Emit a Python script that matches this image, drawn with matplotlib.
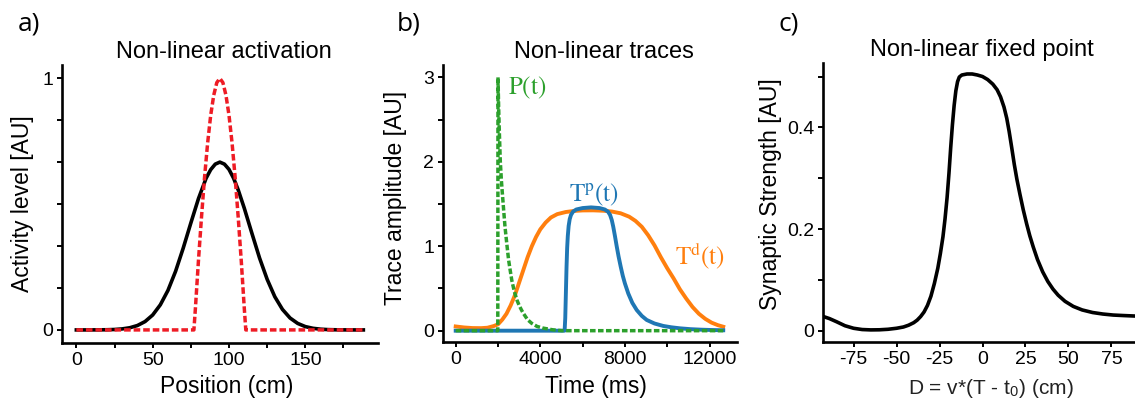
import numpy as np
import matplotlib
matplotlib.use("Agg")
import matplotlib.pyplot as plt

plt.rcParams['font.family'] = ['Liberation Sans', 'DejaVu Sans']
plt.rcParams['mathtext.fontset'] = 'stix'

# ---------------- data: panel a ----------------
pos_black = [0, 5, 10, 15, 20, 25, 30, 35, 40, 45, 50, 55, 60, 65, 70, 75, 80,
             85, 88, 91, 94, 97, 100, 103, 106, 110, 115, 120, 125, 130, 135,
             140, 145, 150, 155, 160, 165, 170, 175, 180, 188]
act_black = [0.0, 0.0, 0.0001, 0.0003, 0.0007, 0.0017, 0.004, 0.0086, 0.0175,
             0.0332, 0.0593, 0.0997, 0.157, 0.233, 0.325, 0.425, 0.522, 0.603,
             0.637, 0.659, 0.667, 0.659, 0.638, 0.603, 0.557, 0.484, 0.384,
             0.286, 0.201, 0.132, 0.0816, 0.0473, 0.0258, 0.0132, 0.0064,
             0.0029, 0.0012, 0.0005, 0.0002, 0.0, 0.0]
pos_red = [0, 77, 78, 80, 82, 84, 86, 88, 90, 92, 94, 96, 98, 100, 102, 104,
           106, 108, 110, 111, 188]
act_red = [0.0, 0.0, 0.087, 0.277, 0.45, 0.608, 0.743, 0.853, 0.933, 0.983,
           1.0, 0.983, 0.933, 0.853, 0.743, 0.608, 0.45, 0.277, 0.087, 0.0, 0.0]
a_xticks = [0, 50, 100, 150]
a_xminor = [25, 75, 125, 175]

# ---------------- data: panel b ----------------
t_P = [0, 1990, 2000, 2030, 2060, 2110, 2160, 2205, 2270, 2331, 2420, 2500,
       2580, 2650, 2730, 2800, 2900, 3000, 3100, 3197, 3400, 3590, 3850, 4140,
       4600, 5000, 12650]
P = [0.0, 0.0, 3.0, 2.65, 2.38, 2.0, 1.78, 1.63, 1.42, 1.23, 1.02, 0.84, 0.71,
     0.6, 0.51, 0.44, 0.36, 0.3, 0.25, 0.206, 0.13, 0.088, 0.05, 0.03, 0.01,
     0.0, 0.0]
t_Tp = [0, 5150, 5180, 5210, 5240, 5270, 5300, 5340, 5390, 5450, 5550, 5700,
        6000, 6400, 6800, 7050, 7200, 7300, 7380, 7450, 7530, 7612, 7700, 7800,
        7900, 8000, 8160, 8350, 8558, 8800, 9031, 9400, 9816, 10200, 10605,
        11100, 11600, 12100, 12650]
Tp = [0.0, 0.0, 0.15, 0.45, 0.75, 0.98, 1.12, 1.24, 1.32, 1.37, 1.41, 1.435,
      1.452, 1.46, 1.452, 1.435, 1.41, 1.37, 1.31, 1.23, 1.12, 1.0, 0.88, 0.76,
      0.65, 0.56, 0.44, 0.33, 0.245, 0.175, 0.127, 0.085, 0.056, 0.04, 0.028,
      0.018, 0.012, 0.008, 0.005]
t_Td = [0, 400, 800, 1200, 1500, 1800, 2000, 2200, 2400, 2600, 2800, 3000,
        3200, 3400, 3600, 3800, 4000, 4250, 4500, 4800, 5200, 5600, 6000, 6500,
        7000, 7400, 7800, 8200, 8500, 8800, 9100, 9400, 9700, 10000, 10300,
        10600, 10900, 11200, 11500, 11800, 12100, 12400, 12650]
Td = [0.05, 0.038, 0.031, 0.03, 0.035, 0.055, 0.075, 0.13, 0.2, 0.3, 0.42,
      0.57, 0.72, 0.87, 1.0, 1.11, 1.2, 1.28, 1.34, 1.38, 1.405, 1.418, 1.424,
      1.425, 1.42, 1.41, 1.39, 1.35, 1.3, 1.23, 1.13, 1.01, 0.87, 0.74, 0.62,
      0.49, 0.38, 0.28, 0.2, 0.14, 0.095, 0.065, 0.047]
b_xticks = [0, 4000, 8000, 12000]
b_xminor = [2000, 6000, 10000]
b_yticks = [0, 1, 2, 3]
b_yminor = [0.5, 1.5, 2.5]

# ---------------- data: panel c ----------------
D = [-92.5, -89, -85, -80, -75, -70, -65, -60, -55, -50, -46, -43, -40, -38,
     -36, -34, -32, -30, -28, -26, -24.5, -23, -21.8, -20.6, -19.5, -18.5,
     -17.5, -16.5, -15.5, -14.5, -13.5, -12, -9, -6, -3, 0, 3, 6, 8.5, 10.5,
     12.5, 14.1, 15.5, 17, 18.5, 20, 21.8, 23.7, 25.7, 27.5, 29.5, 32, 35, 38,
     41, 44, 48, 52.8, 58, 64, 70, 76, 82, 89]
W = [0.028, 0.024, 0.018, 0.01, 0.005, 0.0025, 0.0018, 0.002, 0.003, 0.005,
     0.0075, 0.011, 0.016, 0.021, 0.028, 0.037, 0.05, 0.068, 0.093, 0.123,
     0.152, 0.185, 0.22, 0.262, 0.31, 0.36, 0.405, 0.443, 0.472, 0.49, 0.499,
     0.503, 0.505, 0.505, 0.503, 0.5, 0.494, 0.485, 0.474, 0.46, 0.44, 0.418,
     0.392, 0.36, 0.327, 0.298, 0.268, 0.238, 0.21, 0.187, 0.165, 0.14, 0.116,
     0.097, 0.082, 0.07, 0.058, 0.048, 0.041, 0.036, 0.033, 0.031, 0.030,
     0.029]
c_xticks = [-75, -50, -25, 0, 25, 50, 75]
c_yticks = [0, 0.2, 0.4]
c_yminor = [0.1, 0.3, 0.5]

# ---------------- figure ----------------
W_PX, H_PX = 1135, 407
fig = plt.figure(figsize=(W_PX / 100, H_PX / 100), dpi=100)


def axes_px(l, r, t, b):
    return fig.add_axes([l / W_PX, 1 - b / H_PX, (r - l) / W_PX, (b - t) / H_PX])


def style(ax):
    for s in ['top', 'right']:
        ax.spines[s].set_visible(False)
    for s in ['left', 'bottom']:
        ax.spines[s].set_linewidth(1.9)
    ax.tick_params(which='both', direction='out', length=3.5, width=1.4,
                   labelsize=14, pad=3)


LABFS = 16.5
TITFS = 17
PANFS = 19
LW = 2.6

# ---- panel a ----
axa = axes_px(62, 378, 65, 343)
style(axa)
axa.plot(pos_black, act_black, color='black', lw=LW)
axa.plot(pos_red, act_red, color='#EE1C25', lw=2.5, dashes=(1.9, 0.85))
axa.set_xlim(-9.4, 197.6)
axa.set_ylim(-0.052, 1.053)
axa.set_xticks(a_xticks)
axa.set_xticks(a_xminor, minor=True)
axa.set_yticks([0, 1])
axa.set_yticklabels(['0', '1'])
axa.set_yticks([1 / 6, 2 / 6, 3 / 6, 4 / 6, 5 / 6], minor=True)
axa.set_xlabel('Position (cm)', fontsize=LABFS)
axa.set_ylabel('Activity level [AU]', fontsize=LABFS)
axa.xaxis.set_label_coords(0.52, -0.115)
axa.yaxis.set_label_coords(-0.088, 0.5)
axa.set_title('Non-linear activation', fontsize=TITFS, x=0.511, pad=5)
fig.text(18 / W_PX, 1 - 24 / H_PX, 'a)', fontsize=PANFS, family='Open Sans',
         va='center', ha='left')

# ---- panel b ----
axb = axes_px(443.3, 736.7, 65, 342)
style(axb)
axb.plot(t_Td, Td, color='#FF7F0E', lw=2.8)
axb.plot(t_Tp, Tp, color='#1F77B4', lw=2.8)
axb.plot(t_P, P, color='#2CA02C', lw=2.5, dashes=(1.6, 0.7))
axb.set_xlim(-586, 13286)
axb.set_ylim(-0.134, 3.146)
axb.set_xticks(b_xticks)
axb.set_xticks(b_xminor, minor=True)
axb.set_yticks(b_yticks)
axb.set_yticks(b_yminor, minor=True)
axb.set_xlabel('Time (ms)', fontsize=LABFS)
axb.set_ylabel('Trace amplitude [AU]', fontsize=LABFS)
axb.xaxis.set_label_coords(0.52, -0.12)
axb.yaxis.set_label_coords(-0.124, 0.52)
axb.set_title('Non-linear traces', fontsize=TITFS, x=0.548, pad=5)
axb.text(2473, 2.87, r'$\mathrm{P(t)}$', color='#2CA02C', fontsize=18,
         ha='left', va='center')
axb.text(6540, 1.61, r'$\mathrm{T^{p}(t)}$', color='#1F77B4', fontsize=18,
         ha='center', va='center')
axb.text(10369, 0.876, r'$\mathrm{T^{d}(t)}$', color='#FF7F0E', fontsize=18,
         ha='left', va='center')
fig.text(397 / W_PX, 1 - 24 / H_PX, 'b)', fontsize=PANFS, family='Open Sans',
         va='center', ha='left')

# ---- panel c ----
axc = axes_px(823.3, 1135, 63.3, 342)
style(axc)
axc.plot(D, W, color='black', lw=LW)
axc.set_xlim(-92.6, 88.7)
axc.set_ylim(-0.022, 0.526)
axc.set_xticks(c_xticks)
axc.set_xticklabels([str(v) for v in c_xticks])
axc.set_yticks(c_yticks)
axc.set_yticklabels(['0', '0.2', '0.4'])
axc.set_yticks(c_yminor, minor=True)
axc.set_xlabel(r'D = v*(T - t$_{\mathregular{0}}$) (cm)', fontsize=15,
               color='#222222')
axc.set_ylabel('Synaptic Strength [AU]', fontsize=LABFS)
axc.xaxis.set_label_coords(0.539, -0.125)
axc.yaxis.set_label_coords(-0.132, 0.53)
axc.set_title('Non-linear fixed point', fontsize=TITFS, x=0.508, pad=5)
fig.text(778 / W_PX, 1 - 24 / H_PX, 'c)', fontsize=PANFS, family='Open Sans',
         va='center', ha='left')

fig.savefig('out.png', dpi=100)
